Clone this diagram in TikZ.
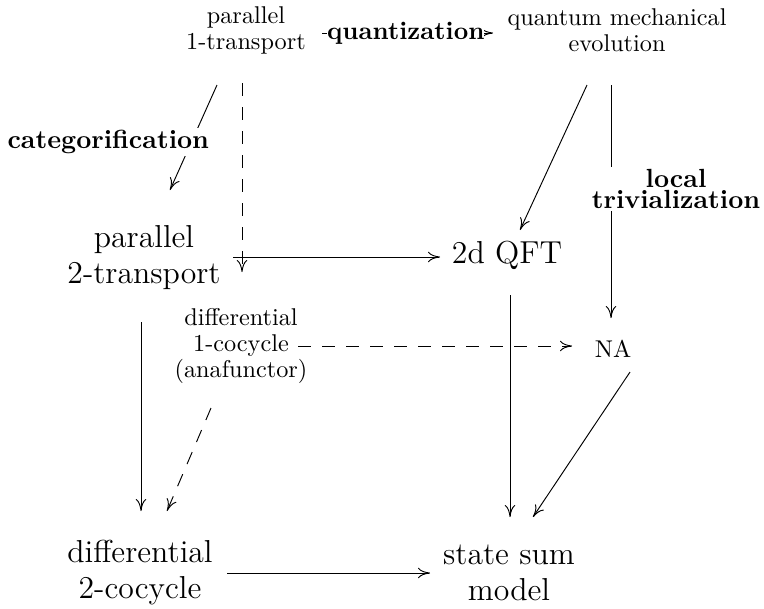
\documentclass[tikz,border=0pt]{standalone}
\usetikzlibrary{arrows.meta,calc}
\begin{document}
\begin{tikzpicture}[x=0.4pt,y=-0.4pt,
  every node/.style={inner sep=0pt, align=center},
  small/.style={font=\fontsize{9.7}{10.4}\selectfont},
  big/.style={font=\fontsize{12.7}{14.4}\selectfont},
  lab/.style={font=\fontsize{10.5}{8.4}\selectfont\bfseries, fill=white, inner xsep=0pt, inner ysep=1pt},
  arr/.style={line width=0.38pt, -{Computer Modern Rightarrow[length=4.8pt,width=4.2pt]}},
  dasharr/.style={arr, dash pattern=on 5.2pt off 4.4pt}]

\useasboundingbox (0,0) rectangle (764,608);

% objects
\node[small] (p1)  at (246,30)  {parallel\\1-transport};
\node[small] (qm)  at (617,30)  {quantum mechanical\\evolution};
\node[big]   (p2)  at (144,258) {parallel\\2-transport};
\node[big]   (qft) at (507,255) {2d QFT};
\node[small] (d1)  at (241,346) {differential\\1-cocycle\\(anafunctor)};
\node[small] (na)  at (613,349) {NA};
\node[big]   (d2)  at (140,573) {differential\\2-cocycle};
\node[big]   (ss)  at (509,573) {state sum\\model};

% morphisms
\draw[arr] ($(p1)+(76,3)$) -- ($(qm)+(-124,3)$)
  node[lab, pos=0.49, font=\fontsize{10.1}{8.4}\selectfont\bfseries] {quantization};
\draw[arr] ($(p1)+(-29,55)$) -- ($(p2)+(26,-68)$)
  node[lab, pos=0.543, anchor=east, xshift=8.2pt, inner xsep=1pt] {categorification};
\draw[dasharr] ($(p1)+(-4,53)$) -- ($(d1)+(1,-74)$);
\draw[arr] ($(qm)+(-30,55)$) -- ($(qft)+(13,-25)$);
\draw[arr] ($(qm)+(-6,55)$) -- ($(na)+(-2,-31)$)
  node[lab, pos=0.446, xshift=26pt, inner xsep=1pt] {local\\trivialization};
\draw[arr] ($(p2)+(89,-1)$) -- ($(qft)+(-67,2)$);
\draw[dasharr] ($(d1)+(57,0)$) -- ($(na)+(-41,-3)$);
\draw[arr] ($(p2)+(-3,64)$) -- ($(d2)+(1,-62)$);
\draw[dasharr] ($(d1)+(-30,62)$) -- ($(d2)+(27,-62)$);
\draw[arr] ($(qft)+(3,40)$) -- ($(ss)+(1,-56)$);
\draw[arr] ($(na)+(17,23)$) -- ($(ss)+(24,-56)$);
\draw[arr] ($(d2)+(87,0)$) -- ($(ss)+(-79,0)$);
\end{tikzpicture}
\end{document}
